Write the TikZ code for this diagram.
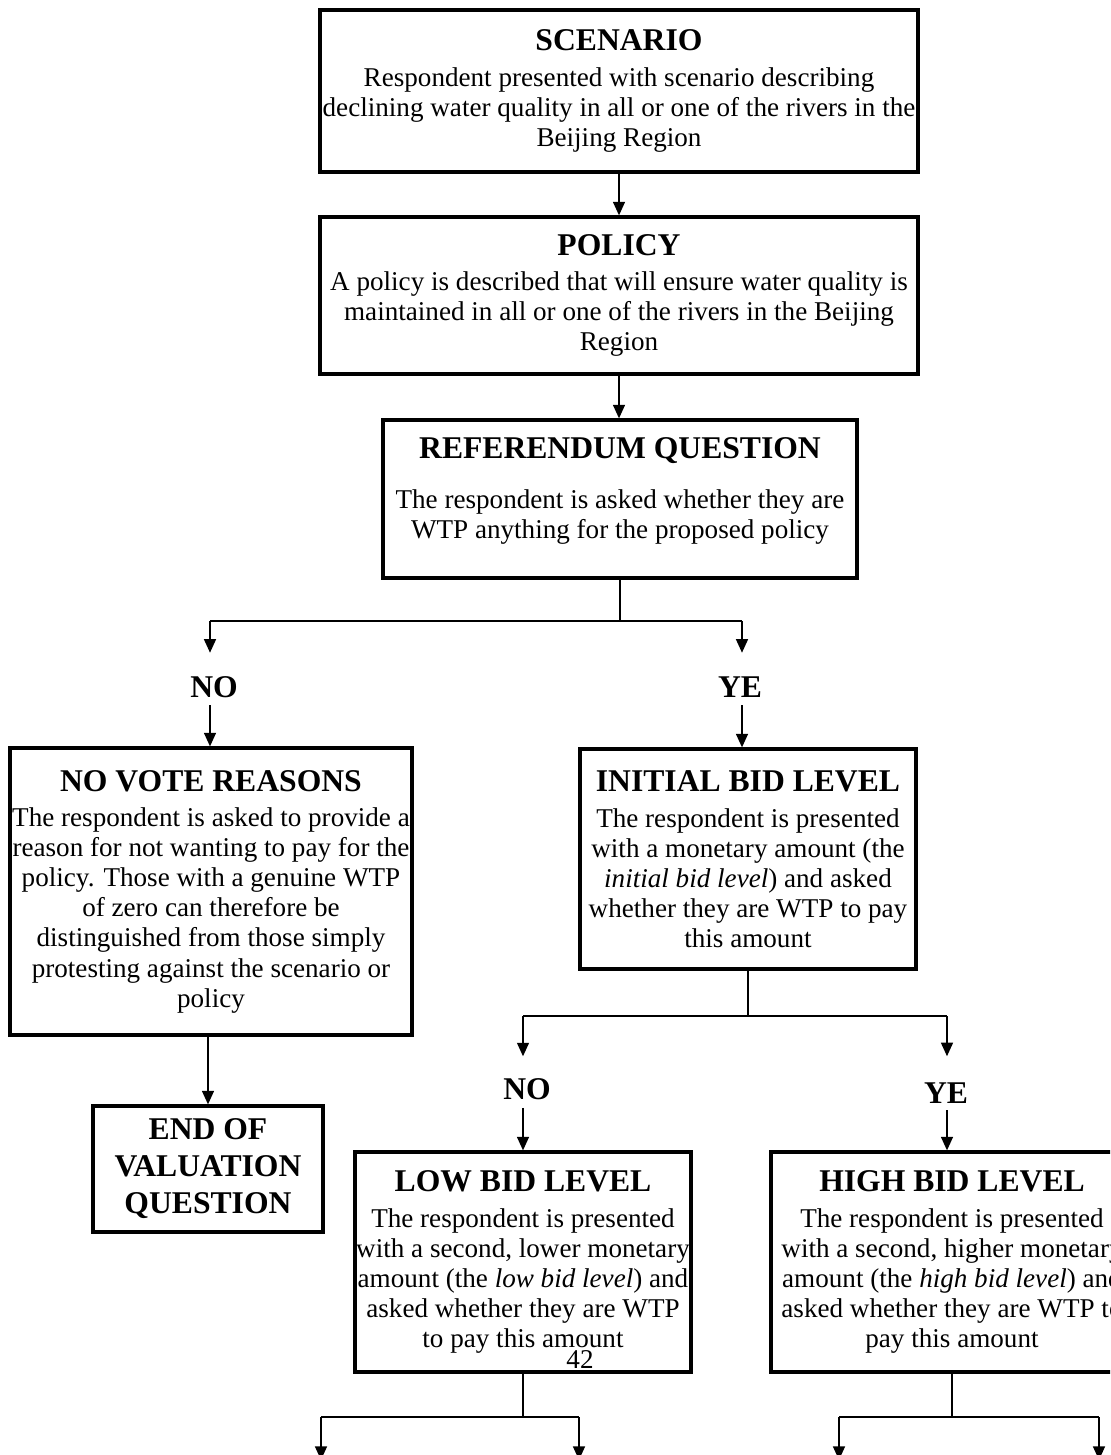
\documentclass[tikz,border=0pt]{standalone}
\usepackage{fontspec}
\setmainfont{Liberation Serif}
\usetikzlibrary{arrows.meta}
\def\pxu{0.4425pt}
\newcommand\bodyfont{\fontsize{12}{13.3}\selectfont}
\newcommand\ttlfont{\fontsize{14}{16}\selectfont\bfseries}
\tikzset{
  box/.style={draw, line width=1.4pt, inner sep=0pt, align=center, font=\bodyfont},
  endbox/.style={box, font=\fontsize{14}{16.4}\selectfont\bfseries},
  lbl/.style={font=\ttlfont, inner sep=0pt, text height=9.3pt, text depth=0pt},
  arr/.style={line width=0.9pt, -{Triangle[length=6pt,width=5.2pt]}},
  link/.style={line width=0.6pt},
}
\begin{document}
\begin{tikzpicture}[x=\pxu,y=-\pxu]
\useasboundingbox (0,0) rectangle (1110,1455);
\clip (0,0) rectangle (1110,1455);
\fill[white] (0,0) rectangle (1110,1455);

% boxes
\node[box, minimum width=598*\pxu, minimum height=162*\pxu] (scen) at (619,91)
  {{\ttlfont SCENARIO}\\[2.5pt]
   Respondent presented with scenario describing\\
   declining water quality in all or one of the rivers in the\\
   Beijing Region};
\node[box, minimum width=598*\pxu, minimum height=157*\pxu] (pol) at (619,295.5)
  {{\ttlfont POLICY}\\[2.5pt]
   A policy is described that will ensure water quality is\\
   maintained in all or one of the rivers in the Beijing\\
   Region};
\node[box, minimum width=474*\pxu, minimum height=158*\pxu] (ref) at (620,499)
  {{\ttlfont REFERENDUM QUESTION}\\[9pt]
   The respondent is asked whether they are\\
   WTP anything for the proposed policy\rule[-9.5pt]{0pt}{9.5pt}};
\node[box, minimum width=402*\pxu, minimum height=287*\pxu] (novote) at (211,891.5)
  {{\ttlfont NO VOTE REASONS}\\[2.5pt]
   The respondent is asked to provide a\\
   reason for not wanting to pay for the\\
   policy. Those with a genuine WTP\\
   of zero can therefore be\\
   distinguished from those simply\\
   protesting against the scenario or\\
   policy};
\node[box, minimum width=336*\pxu, minimum height=220*\pxu] (init) at (748,859)
  {{\ttlfont INITIAL BID LEVEL}\\[2.5pt]
   The respondent is presented\\
   with a monetary amount (the\\
   \textit{initial bid level}) and asked\\
   whether they are WTP to pay\\
   this amount};
\node[endbox, minimum width=230*\pxu, minimum height=126*\pxu] (endv) at (208,1169)
  {END OF\\ VALUATION\\ QUESTION};
\node[box, minimum width=336*\pxu, minimum height=220*\pxu] (low) at (523,1262)
  {{\ttlfont LOW BID LEVEL}\\[2.5pt]
   The respondent is presented\\
   with a second, lower monetary\\
   amount (the \textit{low bid level}) and\\
   asked whether they are WTP\\
   to pay this amount};
\node[box, minimum width=362*\pxu, minimum height=220*\pxu] (high) at (952,1262)
  {{\ttlfont HIGH BID LEVEL}\\[2.5pt]
   The respondent is presented\\
   with a second, higher monetary\\
   amount (the \textit{high bid level}) and\\
   asked whether they are WTP to\\
   pay this amount};

% labels
\node[lbl] (no1) at (214,687) {NO};
\node[lbl] (ye1) at (740,687) {YE};
\node[lbl] (no2) at (527,1089) {NO};
\node[lbl] (ye2) at (946,1093) {YE};
\node[font=\fontsize{12}{14}\selectfont, inner sep=0pt] (pg) at (580,1360) {42};

% split coordinates
\coordinate (s1) at (620,621);
\coordinate (s1L) at (210,621);
\coordinate (s1R) at (742,621);
\coordinate (s2) at (748,1016);
\coordinate (s2L) at (523,1016);
\coordinate (s2R) at (947,1016);
\coordinate (s3) at (523,1417);
\coordinate (s3L) at (321,1417);
\coordinate (s3R) at (579,1417);
\coordinate (s4) at (952,1417);
\coordinate (s4L) at (839,1417);
\coordinate (s4R) at (1099,1417);
\coordinate (t1) at (321,1460);
\coordinate (t2) at (579,1460);
\coordinate (t3) at (839,1460);
\coordinate (t4) at (1099,1460);

% connectors
\draw[arr] (scen.south) -- (pol.north);
\draw[arr] (pol.south) -- (pol.south |- ref.north);
\draw[link] (ref.south) -- (s1);
\draw[link] (s1L) -- (s1R);
\draw[arr, shorten >=10.3pt] (s1L) -- (s1L |- no1.north);
\draw[arr, shorten >=10.3pt] (s1R) -- (s1R |- ye1.north);
\draw[arr, shorten <=3.3pt] (s1L |- no1.south) -- (s1L |- novote.north);
\draw[arr, shorten <=3.3pt] (s1R |- ye1.south) -- (s1R |- init.north);
\draw[arr] (endv.north |- novote.south) -- (endv.north);
\draw[link] (init.south) -- (s2);
\draw[link] (s2L) -- (s2R);
\draw[arr, shorten >=9.6pt] (s2L) -- (s2L |- no2.north);
\draw[arr, shorten >=11.4pt] (s2R) -- (s2R |- ye2.north);
\draw[arr, shorten <=3.5pt] (s2L |- no2.south) -- (s2L |- low.north);
\draw[arr, shorten <=2.8pt] (s2R |- ye2.south) -- (s2R |- high.north);
\draw[link] (low.south) -- (s3);
\draw[link] (s3L) -- (s3R);
\draw[arr] (s3L) -- (t1);
\draw[arr] (s3R) -- (t2);
\draw[link] (high.south) -- (s4);
\draw[link] (s4L) -- (s4R);
\draw[arr] (s4L) -- (t3);
\draw[arr] (s4R) -- (t4);
\end{tikzpicture}
\end{document}
